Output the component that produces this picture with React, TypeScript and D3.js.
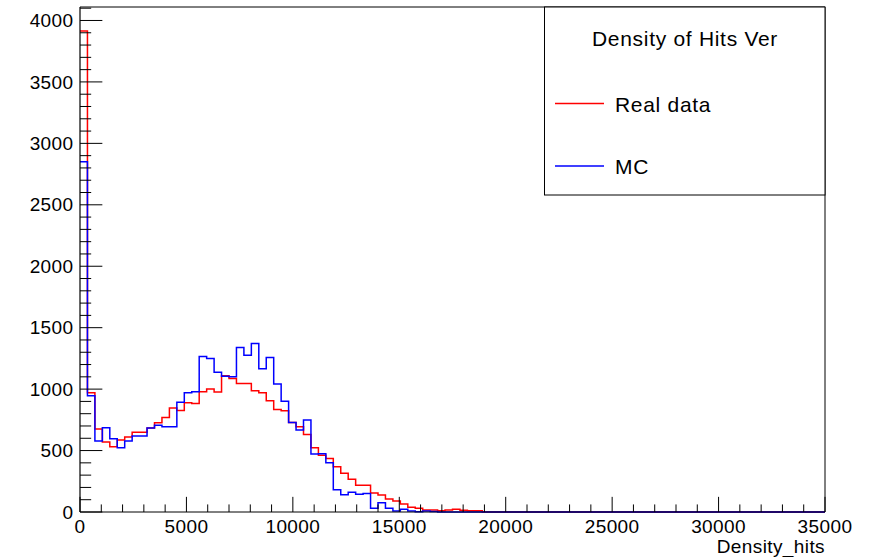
import React from "react";
import * as d3 from "d3";

// Histogram binning: 100 bins of width 350 over [0, 35000]
const binWidth = 350;
const xMin = 0;
const xMax = 35000;

// Bin contents (first bins only; the rest are empty)
const realData = [
  3914, 970, 675, 569, 531, 585, 610, 650, 650, 683,
  726, 770, 846, 827, 889, 883, 978, 1000, 976, 1108,
  1087, 1046, 1046, 986, 970, 905, 835, 824, 729, 694,
  631, 523, 462, 436, 369, 315, 267, 217, 217, 155,
  138, 106, 89, 65, 38, 30, 16, 16, 11, 16,
  22, 14, 11, 11,
];

const mcData = [
  2850, 946, 577, 686, 596, 523, 577, 618, 618, 683,
  705, 694, 694, 894, 970, 978, 1265, 1250, 1138, 1104,
  1100, 1339, 1276, 1371, 1165, 1257, 1041, 902, 729, 667,
  748, 472, 475, 400, 182, 140, 160, 145, 150, 30,
  76, 30, 8, 22, 8, 3, 8, 5,
];

const xMajorTicks = [0, 5000, 10000, 15000, 20000, 25000, 30000, 35000];
const yMajorTicks = [0, 500, 1000, 1500, 2000, 2500, 3000, 3500, 4000];

const legendTitle = "Density of Hits Ver";
const seriesNames = ["Real data", "MC"];
const seriesColors = ["#ff0000", "#0000ff"];
const xTitle = "Density_hits";

const W = 876;
const H = 557;
const frame = { left: 80, right: 825, top: 7, bottom: 512 };
const font = "'Liberation Sans', Arial, Helvetica, sans-serif";

const nBins = Math.round((xMax - xMin) / binWidth);
const maxVal = Math.max(...realData, ...mcData);

const x = d3.scaleLinear().domain([xMin, xMax]).range([frame.left, frame.right]);
const y = d3.scaleLinear().domain([0, maxVal * 1.05]).range([frame.bottom, frame.top]);

function histPath(values: number[]): string {
  const pts: [number, number][] = [];
  for (let i = 0; i < nBins; i++) {
    const v = values[i] ?? 0;
    const x0 = xMin + i * binWidth;
    pts.push([x0, v], [x0 + binWidth, v]);
  }
  const line = d3
    .line<[number, number]>()
    .x((d) => x(d[0]))
    .y((d) => y(d[1]));
  return line(pts) ?? "";
}

export default function App() {
  const xMinor = d3.range(xMin, xMax + 1, 1000);
  const yMinor = d3.range(0, y.domain()[1], 100);
  const xMajLen = 0.03 * (frame.bottom - frame.top);
  const yMajLen = 0.03 * (frame.right - frame.left);
  const axisFont = { fontSize: 19, letterSpacing: 0.4 };
  const legendFont = { fontSize: 21, letterSpacing: 0.7 };

  return (
    <svg
      width={W}
      height={H}
      style={{ position: "absolute", left: 0, top: 0, background: "#fff" }}
      fontFamily={font}
    >
      <rect x={0} y={0} width={W} height={H} fill="#fff" />

      {/* histograms */}
      <path d={histPath(realData)} fill="none" stroke={seriesColors[0]} strokeWidth={1.5} />
      <path d={histPath(mcData)} fill="none" stroke={seriesColors[1]} strokeWidth={1.5} />

      {/* frame */}
      <line x1={frame.left} x2={frame.right} y1={frame.top} y2={frame.top} stroke="#000" strokeWidth={1} />
      <line x1={frame.right} x2={frame.right} y1={frame.top} y2={frame.bottom} stroke="#000" strokeWidth={1} />
      <line x1={frame.left} x2={frame.left} y1={frame.top} y2={frame.bottom} stroke="#000" strokeWidth={1.2} />
      <line x1={frame.left} x2={frame.right} y1={frame.bottom} y2={frame.bottom} stroke="#000" strokeWidth={1} />

      {/* x axis ticks */}
      {xMinor.map((t) => {
        const major = t % 5000 === 0;
        return (
          <line
            key={"xt" + t}
            x1={x(t)}
            x2={x(t)}
            y1={frame.bottom}
            y2={frame.bottom - (major ? xMajLen : xMajLen / 2)}
            stroke="#000"
            strokeWidth={1}
          />
        );
      })}
      {xMajorTicks.map((t) => (
        <text key={"xl" + t} x={x(t)} y={frame.bottom + 21} {...axisFont} textAnchor="middle" fill="#000">
          {t}
        </text>
      ))}
      <text x={frame.right} y={553} {...axisFont} textAnchor="end" fill="#000">
        {xTitle}
      </text>

      {/* y axis ticks */}
      {yMinor.map((t) => {
        const major = t % 500 === 0;
        return (
          <line
            key={"yt" + t}
            x1={frame.left}
            x2={frame.left + (major ? yMajLen : yMajLen / 2)}
            y1={y(t)}
            y2={y(t)}
            stroke="#000"
            strokeWidth={1}
          />
        );
      })}
      {yMajorTicks.map((t) => (
        <text
          key={"yl" + t}
          x={frame.left - 6.5}
          y={y(t)}
          dy="0.35em"
          {...axisFont}
          textAnchor="end"
          fill="#000"
        >
          {t}
        </text>
      ))}

      {/* legend */}
      <rect x={544.5} y={frame.top} width={frame.right - 544.5} height={195 - frame.top} fill="#fff" stroke="#000" strokeWidth={1} />
      <text x={685} y={46} {...legendFont} textAnchor="middle" fill="#000">
        {legendTitle}
      </text>
      {seriesNames.map((name, i) => {
        const ly = 103.5 + i * 62.5;
        return (
          <g key={name}>
            <line x1={555} x2={604} y1={ly} y2={ly} stroke={seriesColors[i]} strokeWidth={1.3} />
            <text x={615} y={ly + 8} {...legendFont} fill="#000">
              {name}
            </text>
          </g>
        );
      })}
    </svg>
  );
}
